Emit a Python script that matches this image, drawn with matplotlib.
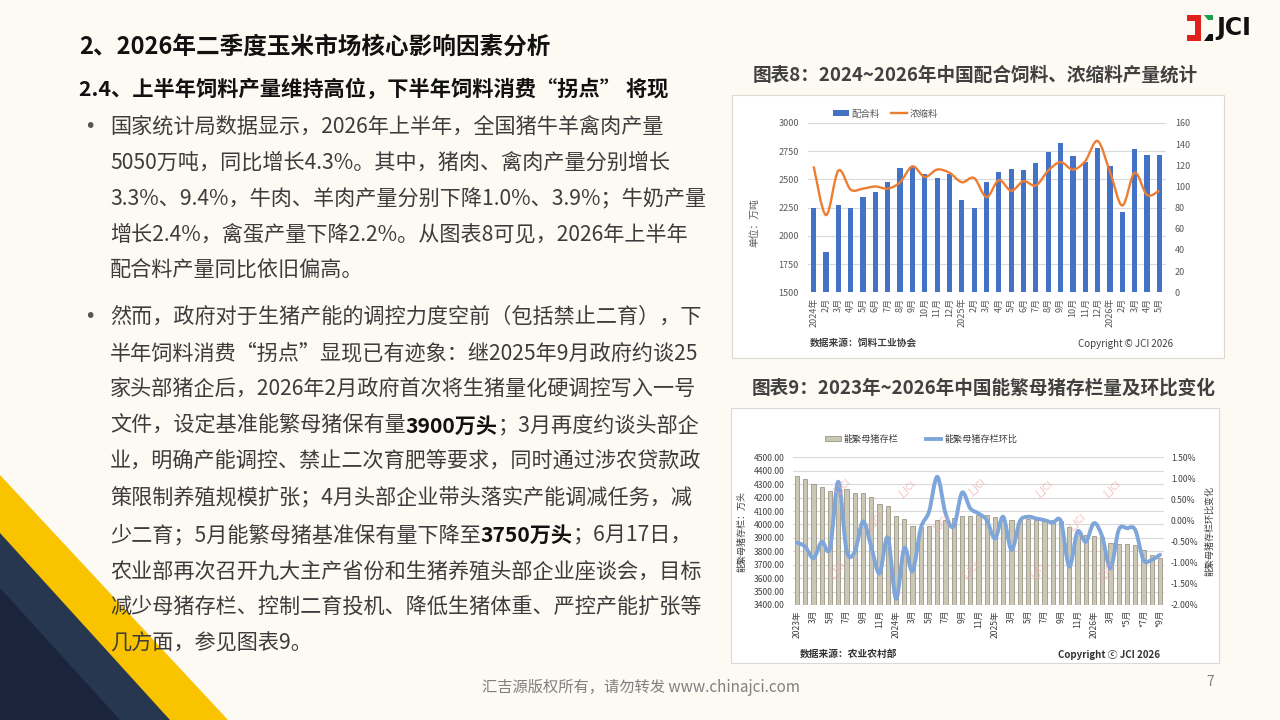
import matplotlib
matplotlib.use('Agg')
import matplotlib.pyplot as plt
from matplotlib.patches import Rectangle, Polygon, PathPatch, Patch
from matplotlib.lines import Line2D
from matplotlib.path import Path
import numpy as np

plt.rcParams['font.family'] = ['Noto Sans CJK SC', 'DejaVu Sans']

W, H = 1280, 720

# ---------------- data: chart 8 ----------------
feed_months = ['2024年', '2月', '3月', '4月', '5月', '6月', '7月', '8月', '9月', '10月', '11月', '12月',
               '2025年', '2月', '3月', '4月', '5月', '6月', '7月', '8月', '9月', '10月', '11月', '12月',
               '2026年', '2月', '3月', '4月', '5月']
compound_feed = [2245, 1860, 2270, 2250, 2340, 2390, 2480, 2600, 2615, 2550, 2515, 2550,
                 2315, 2245, 2475, 2565, 2595, 2585, 2650, 2740, 2820, 2705, 2655, 2775,
                 2615, 2215, 2770, 2715, 2720]
concentrate_feed = [119, 73, 115, 97, 98, 100, 98, 104, 119, 109, 116, 113,
                    104, 108, 90, 106, 96, 105, 101, 115, 123, 116, 124, 143,
                    114, 82, 113, 92, 96]
feed_left_ticks = [1500, 1750, 2000, 2250, 2500, 2750, 3000]
feed_right_ticks = [0, 20, 40, 60, 80, 100, 120, 140, 160]

# ---------------- data: chart 9 ----------------
sow_months = ['2023年', '2月', '3月', '4月', '5月', '6月', '7月', '8月', '9月', '10月', '11月', '12月',
              '2024年', '2月', '3月', '4月', '5月', '6月', '7月', '8月', '9月', '10月', '11月', '12月',
              '2025年', '2月', '3月', '4月', '5月', '6月', '7月', '8月', '9月', '10月', '11月', '12月',
              '2026年', '2月', '3月', '*4月', '*5月', '*6月', '*7月', '*8月', '*9月']
sow_stock = [4363, 4338, 4301, 4279, 4252, 4290, 4264, 4237, 4235, 4204, 4155, 4137,
             4060, 4038, 3986, 3982, 3990, 4030, 4035, 4045, 4060, 4065, 4070, 4070,
             4058, 4050, 4035, 4035, 4040, 4035, 4038, 4033, 4028, 3983, 3946, 3921,
             3913, 3903, 3864, 3854, 3851, 3846, 3810, 3772, 3748]
sow_mom = [-0.52, -0.62, -0.89, -0.50, -0.66, 0.92, -0.70, -0.74, -0.02, -0.62, -1.25, -0.40,
           -1.85, -0.65, -1.20, -0.18, 0.21, 1.04, 0.17, -0.14, 0.66, 0.29, 0.17, 0.01,
           -0.42, 0.09, -0.70, -0.02, 0.09, 0.05, 0.01, -0.05, -0.02, -1.09, -0.26, -0.50,
           -0.06, -0.38, -1.13, -0.22, -0.18, -0.22, -0.93, -0.93, -0.81]
sow_left_ticks = [3400, 3500, 3600, 3700, 3800, 3900, 4000, 4100, 4200, 4300, 4400, 4500]
sow_right_ticks = [-2.0, -1.5, -1.0, -0.5, 0.0, 0.5, 1.0, 1.5]

# ---------------- text ----------------
title_main = '2、2026年二季度玉米市场核心影响因素分析'
title_sub = '2.4、上半年饲料产量维持高位，下半年饲料消费“拐点” 将现'
bullet1 = [
    [('国家统计局数据显示，2026年上半年，全国猪牛羊禽肉产量', False)],
    [('5050万吨，同比增长4.3%。其中，猪肉、禽肉产量分别增长', False)],
    [('3.3%、9.4%，牛肉、羊肉产量分别下降1.0%、3.9%；牛奶产量', False)],
    [('增长2.4%，禽蛋产量下降2.2%。从图表8可见，2026年上半年', False)],
    [('配合料产量同比依旧偏高。', False)],
]
bullet2 = [
    [('然而，政府对于生猪产能的调控力度空前（包括禁止二育），下', False)],
    [('半年饲料消费“拐点”显现已有迹象：继2025年9月政府约谈25', False)],
    [('家头部猪企后，2026年2月政府首次将生猪量化硬调控写入一号', False)],
    [('文件，设定基准能繁母猪保有量', False), ('3900万头', True), ('；3月再度约谈头部企', False)],
    [('业，明确产能调控、禁止二次育肥等要求，同时通过涉农贷款政', False)],
    [('策限制养殖规模扩张；4月头部企业带头落实产能调减任务，减', False)],
    [('少二育；5月能繁母猪基准保有量下降至', False), ('3750万头', True), ('；6月17日，', False)],
    [('农业部再次召开九大主产省份和生猪养殖头部企业座谈会，目标', False)],
    [('减少母猪存栏、控制二育投机、降低生猪体重、严控产能扩张等', False)],
    [('几方面，参见图表9。', False)],
]
chart8_title = '图表8：2024~2026年中国配合饲料、浓缩料产量统计'
chart9_title = '图表9：2023年~2026年中国能繁母猪存栏量及环比变化'
footer = '汇吉源版权所有，请勿转发 www.chinajci.com'

BG = '#FDF9F3'
fig = plt.figure(figsize=(12.8, 7.2), dpi=100, facecolor=BG)


def fx(x):
    return x / W


def fy(y):
    return 1 - y / H


def rect_px(x0, y0, x1, y1, **kw):
    r = Rectangle((fx(x0), fy(y1)), (x1 - x0) / W, (y1 - y0) / H,
                  transform=fig.transFigure, **kw)
    fig.patches.append(r)
    return r


def poly_px(pts, **kw):
    p = Polygon([(fx(x), fy(y)) for x, y in pts], closed=True,
                transform=fig.transFigure, **kw)
    fig.patches.append(p)
    return p


def smooth_path(xs, ys):
    xs = np.asarray(xs, float)
    ys = np.asarray(ys, float)
    n = len(xs)
    verts = [(xs[0], ys[0])]
    codes = [Path.MOVETO]
    for i in range(n - 1):
        i0 = max(i - 1, 0)
        i3 = min(i + 2, n - 1)
        c1 = (xs[i] + (xs[i + 1] - xs[i0]) / 6.0, ys[i] + (ys[i + 1] - ys[i0]) / 6.0)
        c2 = (xs[i + 1] - (xs[i3] - xs[i]) / 6.0, ys[i + 1] - (ys[i3] - ys[i]) / 6.0)
        verts += [c1, c2, (xs[i + 1], ys[i + 1])]
        codes += [Path.CURVE4] * 3
    return Path(verts, codes)


# ---------------- background decoration ----------------
poly_px([(0, 475), (228, 720), (0, 720)], facecolor='#F9C300', edgecolor='none', zorder=-3)
poly_px([(0, 533), (170, 720), (0, 720)], facecolor='#283750', edgecolor='none', zorder=-3)
poly_px([(0, 588), (120, 720), (0, 720)], facecolor='#1A243A', edgecolor='none', zorder=-3)

# logo
rect_px(1187, 15, 1200, 21, facecolor='#E0201B', edgecolor='none', zorder=-3)
rect_px(1195, 15, 1201, 41, facecolor='#E0201B', edgecolor='none', zorder=-3)
rect_px(1187, 35, 1201, 41, facecolor='#E0201B', edgecolor='none', zorder=-3)
poly_px([(1204, 15), (1213, 15), (1213, 20), (1208, 20)], facecolor='#1E9E4A', edgecolor='none', zorder=-3)
poly_px([(1204, 41), (1213, 41), (1213, 34), (1209, 34)], facecolor='#111111', edgecolor='none', zorder=-3)
fig.text(fx(1216), fy(28), 'JCI', fontsize=17, fontweight='bold', color='#111111',
         ha='left', va='center', family=['DejaVu Sans'])

# ---------------- left text ----------------
fig.text(fx(79), fy(47), title_main, fontsize=17, fontweight='bold', color='#111111',
         ha='left', va='center')
fig.text(fx(79), fy(89), title_sub, fontsize=15.3, fontweight='bold', color='#111111',
         ha='left', va='center')

renderer = fig.canvas.get_renderer()
BODY = '#3C3C3C'
BODY_SIZE = 15.2


def rich_line(x_px, y_px, segs):
    x = x_px
    for txt, bold in segs:
        t = fig.text(fx(x), fy(y_px), txt, fontsize=BODY_SIZE,
                     fontweight='bold' if bold else 300,
                     color='#111111' if bold else BODY, ha='left', va='center')
        x += t.get_window_extent(renderer=renderer).width


b1_y = [127, 163, 199, 235, 271]
b2_y = [317, 353, 389, 426, 462, 498, 535, 571, 607, 643]
fig.text(fx(84), fy(b1_y[0]), '•', fontsize=14, color='#555555', ha='left', va='center',
         family=['DejaVu Sans'])
fig.text(fx(84), fy(b2_y[0]), '•', fontsize=14, color='#555555', ha='left', va='center',
         family=['DejaVu Sans'])
for segs, y in zip(bullet1, b1_y):
    rich_line(110, y, segs)
for segs, y in zip(bullet2, b2_y):
    rich_line(110, y, segs)

fig.text(fx(641), fy(687), footer, fontsize=11, color='#808080', ha='center', va='center')
fig.text(fx(1210), fy(682), '7', fontsize=10, color='#808080', ha='center', va='center')

# ---------------- chart panels ----------------
rect_px(732, 95, 1224, 358, facecolor='white', edgecolor='#DDD8D0', linewidth=0.8, zorder=-2)
rect_px(731, 408, 1219, 663, facecolor='white', edgecolor='#DDD8D0', linewidth=0.8, zorder=-2)

fig.text(fx(975), fy(75), chart8_title, fontsize=13.4, fontweight='bold', color='#404040',
         ha='center', va='center')
fig.text(fx(984), fy(388), chart9_title, fontsize=13.4, fontweight='bold', color='#404040',
         ha='center', va='center')

TICK = '#595959'

# ---------------- chart 8 ----------------
l8, r8, t8, b8 = 807.5, 1165.5, 123, 292.3
ax8 = fig.add_axes([fx(l8), fy(b8), (r8 - l8) / W, (b8 - t8) / H])
ax8.patch.set_visible(False)
x8 = np.arange(len(feed_months))
ax8.bar(x8, compound_feed, width=0.42, color='#4472C4', zorder=2, label='配合料')
ax8.set_xlim(-0.5, len(feed_months) - 0.5)
ax8.set_ylim(1500, 3000)
ax8.set_yticks(feed_left_ticks)
ax8.set_yticklabels([str(v) for v in feed_left_ticks])
ax8.set_xticks(x8)
ax8.set_xticklabels(feed_months, rotation=90)
ax8.tick_params(axis='y', length=0, pad=6.3, labelsize=6.5, labelcolor=TICK)
ax8.tick_params(axis='x', length=0, pad=4, labelsize=6.5, labelcolor=TICK)
for s in ax8.spines.values():
    s.set_visible(False)
ax8.grid(axis='y', color='#D9D9D9', linewidth=0.8, zorder=0)
ax8.set_axisbelow(True)
ax8.set_ylabel('单位：万吨', fontsize=7, color=TICK)
ax8.yaxis.set_label_coords(-0.135, 0.41)

ax8r = ax8.twinx()
ax8r.set_ylim(0, 160)
ax8r.set_yticks(feed_right_ticks)
ax8r.tick_params(axis='y', length=0, pad=6.8, labelsize=6.5, labelcolor=TICK)
for s in ax8r.spines.values():
    s.set_visible(False)
ax8r.add_patch(PathPatch(smooth_path(x8, concentrate_feed), fill=False,
                         edgecolor='#ED7D31', linewidth=1.7, zorder=3))

h8 = [Patch(facecolor='#4472C4', edgecolor='none'),
      Line2D([0], [0], color='#ED7D31', linewidth=1.7)]
fig.legend(h8, ['配合料', '浓缩料'], loc='center left', bbox_to_anchor=(fx(824), fy(114)),
           ncol=2, frameon=False, fontsize=6.8, handlelength=1.7, handleheight=0.6,
           columnspacing=1.2, handletextpad=0.3, labelcolor=TICK)

fig.text(fx(810), fy(343), '数据来源：饲料工业协会', fontsize=7, fontweight='bold', color='#404040',
         ha='left', va='center')
fig.text(fx(1173), fy(344), 'Copyright © JCI 2026', fontsize=7, color='#404040',
         ha='right', va='center')

# ---------------- chart 9 ----------------
l9, r9, t9, b9 = 792.9, 1164.1, 457.3, 605.0
ax9 = fig.add_axes([fx(l9), fy(b9), (r9 - l9) / W, (b9 - t9) / H])
ax9.patch.set_visible(False)
x9 = np.arange(len(sow_months))
ax9.bar(x9, np.array(sow_stock) - 3400, bottom=3400, width=0.5, color='#CBC7B5',
        edgecolor='#8C8878', linewidth=0.5, zorder=2)
ax9.set_xlim(-0.5, len(sow_months) - 0.5)
ax9.set_ylim(3400, 4500)
ax9.set_yticks(sow_left_ticks)
ax9.set_yticklabels(['%.2f' % v for v in sow_left_ticks])
ax9.set_xticks(x9[::2])
ax9.set_xticklabels(sow_months[::2], rotation=90)
ax9.tick_params(axis='y', length=0, pad=6.2, labelsize=6.2, labelcolor='#404040')
ax9.tick_params(axis='x', length=0, pad=3.6, labelsize=6.2, labelcolor='#404040')
for s in ax9.spines.values():
    s.set_visible(False)
ax9.grid(axis='y', color='#D9D9D9', linewidth=0.8, zorder=0)
ax9.set_axisbelow(True)
ax9.set_ylabel('能繁母猪存栏：万头', fontsize=6.5, color='#404040')
ax9.yaxis.set_label_coords(-0.124, 0.5)

ax9r = ax9.twinx()
ax9r.set_ylim(-2.0, 1.5)
ax9r.set_yticks(sow_right_ticks)
ax9r.set_yticklabels(['%.2f%%' % v for v in sow_right_ticks])
ax9r.tick_params(axis='y', length=0, pad=5, labelsize=6.2, labelcolor='#404040')
for s in ax9r.spines.values():
    s.set_visible(False)
ax9r.add_patch(PathPatch(smooth_path(x9, sow_mom), fill=False,
                         edgecolor='#7EA6DA', linewidth=2.8, zorder=3,
                         capstyle='round', joinstyle='round'))
ax9r.set_ylabel('能繁母猪存栏环比变化', fontsize=6.5, color='#404040', rotation=90)
ax9r.yaxis.set_label_coords(1.11, 0.5)

# watermarks
for wx, wy in [(843, 488), (908, 490), (978, 488), (1045, 490), (1113, 490),
               (876, 522), (942, 524), (1078, 523),
               (838, 571), (972, 571), (1040, 572), (1108, 572)]:
    fig.text(fx(wx), fy(wy), 'J_JCI', fontsize=6.5, color='#EFA8A8', alpha=0.75,
             rotation=40, ha='center', va='center', family=['DejaVu Sans'])

h9 = [Patch(facecolor='#CBC7B5', edgecolor='#8C8878', linewidth=0.5),
      Line2D([0], [0], color='#7EA6DA', linewidth=2.8)]
fig.legend(h9, ['能繁母猪存栏', '能繁母猪存栏环比'], loc='center left',
           bbox_to_anchor=(fx(817), fy(439)), ncol=2, frameon=False, fontsize=6.6,
           handlelength=1.7, handleheight=0.5, columnspacing=3.0, handletextpad=0.3,
           labelcolor='#404040')

fig.text(fx(800), fy(654), '数据来源：农业农村部', fontsize=7, fontweight='bold', color='#333333',
         ha='left', va='center')
fig.text(fx(1160), fy(655), 'Copyright ⓒ JCI 2026', fontsize=7, fontweight='bold', color='#333333',
         ha='right', va='center', family=['Noto Sans CJK SC', 'DejaVu Sans'])

fig.savefig('out.png', dpi=100, facecolor=BG)
